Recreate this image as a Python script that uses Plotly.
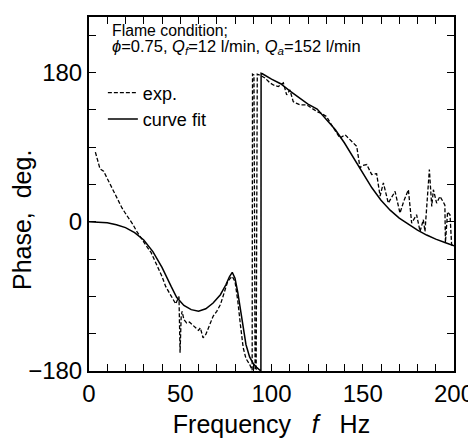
"""Phase response of the flame: experiment vs. curve fit."""

import plotly.graph_objects as go

# Experimental phase (dashed)
EXP_FREQ = [
    3.5, 5, 6, 8, 10, 12, 14, 16, 18, 20, 22, 24, 26, 28, 30, 32, 34, 36, 38, 40,
    42, 44, 46, 47.5, 49.3, 49.9, 50.5, 51, 52, 53.5, 55, 57, 59, 60, 61, 62.5, 64,
    66, 68, 70, 72, 74, 76, 77.5, 78.5, 80, 81.5, 83, 84.5, 86, 88, 89.4, 89.6,
    90.4, 91, 91.6, 92.2, 93.5, 95, 96.4, 98, 99.2, 101, 103.7, 106.5, 108.3,
    110.1, 111.9, 113.5, 115.6, 119.3, 122, 124.8, 127, 130.2, 132, 133.9, 135.5,
    137.5, 140.3, 143, 144.5, 146.7, 148.5, 150, 152.2, 154.9, 157.6, 159.5,
    161.3, 164, 167.7, 170.4, 172.5, 175, 176.8, 179.5, 181.4, 183.2, 184.1,
    186.5, 187.8, 188.7, 190.5, 192.3, 194.1, 195, 195.3, 196.5, 197.8, 198.7, 200,
]
EXP_PHASE = [
    84, 72, 64, 61, 52, 42, 33, 25, 17, 10, 4, -3, -11, -18, -24, -31, -37, -46,
    -56, -66, -78, -86, -94, -99, -90, -158, -115, -108, -118, -122, -121, -125,
    -128, -131, -128, -140, -136, -124, -114, -108, -100, -86, -72, -68, -66, -72,
    -95, -125, -152, -165, -172, -179, 178, 177, -179, -178, 178, 177, 175.5,
    173.5, 170, 167.5, 165, 163, 167.5, 153, 159, 145, 143, 141, 141, 137, 133,
    131, 127, 120, 113, 107, 101, 105, 99, 95, 91, 65, 68, 69, 57, 58, 31, 47,
    22.5, 36.6, 10.5, 25, 38.6, -1.6, 8.5, -11.7, 2.4, -11.7, 63, 18.5, 38.6,
    22.5, 30.6, 24, 20, -25, 12, 8.5, -27.8, -28,
]

# Curve fit (solid)
FIT_FREQ = [
    0, 5, 10, 15, 20, 25, 30, 35, 40, 45, 48, 52, 56, 60, 64, 68, 72, 75, 77,
    78.5, 80, 81.5, 83, 84.5, 86, 88, 90, 92, 93.5, 94.2, 94.3, 95, 100, 105,
    110, 115, 120, 125, 130, 135, 140, 145, 150, 155, 160, 165, 170, 175, 180,
    185, 190, 195, 200,
]
FIT_PHASE = [
    0, -0.3, -1.2, -3.5, -7, -13, -22, -36, -55, -78, -91, -101, -106, -108,
    -105, -98, -88, -76, -66, -61, -68, -85, -105, -128, -148, -163, -171, -176,
    -179, -180, 179, 178.5, 172, 166.5, 158, 150, 142, 136, 124, 111, 95, 77,
    58, 41, 26, 14, 4.5, -3, -10, -16, -21, -25, -29,
]

X_TICKS = list(range(0, 201, 10))
X_LABELS = [str(v) if v % 50 == 0 else "" for v in X_TICKS]
Y_TICKS = list(range(-180, 226, 45))
Y_LABELS = {-180: "\u2212180", 0: "0", 180: "180"}

FONT = "Liberation Sans, Arial, sans-serif"

fig = go.Figure()
fig.add_trace(
    go.Scatter(
        x=EXP_FREQ, y=EXP_PHASE, mode="lines", name="exp.", legendgroup="a",
        line=dict(color="black", width=1.3, dash="4px,2px"),
    )
)
fig.add_trace(
    go.Scatter(
        x=FIT_FREQ, y=FIT_PHASE, mode="lines", name="curve fit", legendgroup="b",
        line=dict(color="black", width=1.5),
    )
)

axis_common = dict(
    showline=True, linecolor="black", linewidth=2, mirror="allticks",
    ticks="inside", ticklen=7, tickwidth=1, tickcolor="black",
    showgrid=False, zeroline=False, automargin=False,
    tickfont=dict(family=FONT, size=24, color="black"),
)
fig.update_xaxes(
    range=[0, 200], tickmode="array", tickvals=X_TICKS, ticktext=X_LABELS,
    title=dict(text="Frequency   <i>f</i>   Hz", font=dict(family=FONT, size=25, color="black"), standoff=10),
    **axis_common,
)
fig.update_yaxes(
    range=[-180, 247], tickmode="array", tickvals=Y_TICKS,
    ticktext=[Y_LABELS.get(v, "") for v in Y_TICKS],
    **axis_common,
)

fig.add_annotation(
    text="Phase,  deg.", textangle=-90, xref="paper", yref="paper",
    x=-0.183, y=0.427, xanchor="center", yanchor="middle", showarrow=False,
    font=dict(family=FONT, size=25, color="black"),
)
fig.add_annotation(
    text="Flame condition;", xref="paper", yref="paper", x=0.058, y=0.962,
    xanchor="left", yanchor="middle", showarrow=False,
    font=dict(family=FONT, size=15.8, color="black"),
)
fig.add_annotation(
    text="<i>\u03d5</i>=0.75, <i>Q<sub>f</sub></i>=12 l/min, <i>Q<sub>a</sub></i>=152 l/min",
    xref="paper", yref="paper", x=0.058, y=0.915,
    xanchor="left", yanchor="middle", showarrow=False,
    font=dict(family=FONT, size=16.5, color="black"),
)

# page body has an 8px default margin, so the figure is shrunk by that much
fig.update_layout(
    width=468, height=437,
    margin=dict(l=81, r=22, t=9, b=74),
    plot_bgcolor="white", paper_bgcolor="white",
    font=dict(family=FONT, color="black"),
    legend=dict(
        x=0.038, y=0.838, xanchor="left", yanchor="top",
        traceorder="grouped", tracegroupgap=0,
        bgcolor="rgba(0,0,0,0)", font=dict(family=FONT, size=18, color="black"),
        itemwidth=30,
    ),
)

fig.write_html("out.html")
